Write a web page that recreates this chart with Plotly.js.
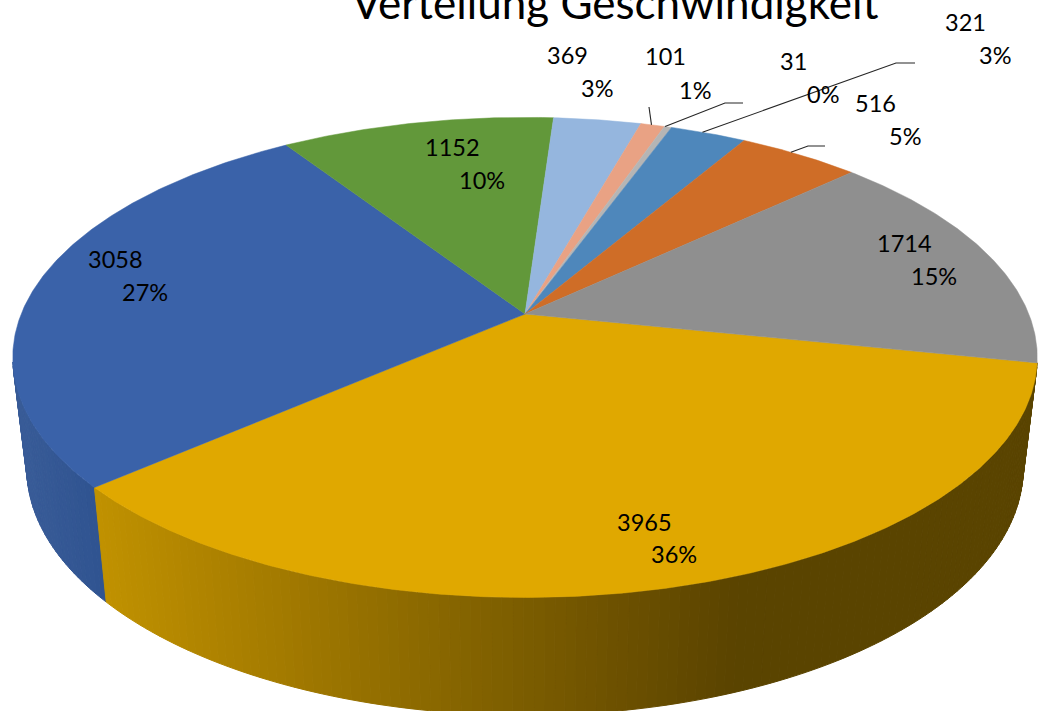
<!DOCTYPE html>
<html>
<head>
<meta charset="utf-8">
<script src="https://cdn.plot.ly/plotly-3.0.1.min.js"></script>
<style>html,body{margin:0;padding:0;background:#fff;overflow:hidden}</style>
</head>
<body>
<div id="chart" style="width:1038px;height:711px"></div>
<script>
// --- data (clockwise from the gold slice)
const titleText = "Verteilung Geschwindigkeit";
const values = [3965, 3058, 1152, 369, 101, 31, 321, 516, 1714];
const percents = ["36%", "27%", "10%", "3%", "1%", "0%", "3%", "5%", "15%"];
const colors = ["#e0a800", "#3a62a9", "#62983a", "#95b6de", "#e9a284", "#b5b5b5", "#4e87bb", "#cf6d27", "#8f8f8f"];

// --- label placement: centre of value line, centre of percent line
const valuePos = [[644,522],[115,259],[452,147],[567,55],[665,56],[793,61],[965,22],[875,103],[904,243]];
const percentPos = [[674,554],[145,292],[482,180],[597,88],[695,90],[823,94],[995,55],[905,136],[934,276]];
// leader lines: slice index, position along the slice rim, elbow x, elbow y, end x
const leaders = [[4,0.45,649,107,649],[5,0.1,725,103,743],[6,0.42,896,63,915],[7,0.42,808,146,825]];

// --- projected pie geometry (screen pixels as axis units)
const startAngle = -11.7, P = 0.1809, CX = 525;
const TOP = {A:503.8, B:232.2, C:314};
const BOT = {A:490.0, B:239, C:423.5};
const LABEL_FONT = 23.5;

const rad = d => d*Math.PI/180;
function proj(g, deg){
  const u = Math.cos(rad(deg)), v = Math.sin(rad(deg)), w = 1 + P*v;
  return [CX + g.A*u/w, g.C - g.B*v/w];
}
const total = values.reduce((a,b)=>a+b,0);
const spans = []; let cur = startAngle;
values.forEach(v => { const e = cur - v/total*360; spans.push([cur,e]); cur = e; });

function lerpStops(stops, x){
  if (x <= stops[0][0]) return stops[0][1];
  for (let i=1;i<stops.length;i++){
    if (x <= stops[i][0]){
      const t=(x-stops[i-1][0])/(stops[i][0]-stops[i-1][0]);
      const a=stops[i-1][1], b=stops[i][1];
      return a.map((c,k)=>c+(b[k]-c)*t);
    }
  }
  return stops[stops.length-1][1];
}
const goldWall = [[104,[192,145,0]],[300,[160,120,0]],[480,[130,98,0]],[640,[105,78,0]],[735,[90,68,0]]];
const blueWall = [[28,[56,91,151]],[104,[47,83,144]]];
const traces = [];
function wall(a0, a1, stops){
  const n = Math.ceil(Math.abs(a1-a0));
  for (let i=0;i<n;i++){
    const s = a0+(a1-a0)*i/n, e = a0+(a1-a0)*(i+1)/n;
    const p=[proj(TOP,s),proj(TOP,e),proj(BOT,e),proj(BOT,s)];
    const mid=(p[0][0]+p[1][0]+p[2][0]+p[3][0])/4;
    const c=lerpStops(stops,mid).map(Math.round);
    const col=`rgb(${c[0]},${c[1]},${c[2]})`;
    traces.push({type:'scatter',mode:'lines',x:[...p.map(q=>q[0]),p[0][0]],y:[...p.map(q=>q[1]),p[0][1]],
      fill:'toself',fillcolor:col,line:{color:col,width:1},hoverinfo:'skip',showlegend:false});
  }
}
wall(spans[1][0], -168.5, blueWall);
wall(spans[0][0], spans[0][1], goldWall);

spans.forEach((sp,i)=>{
  const n=Math.max(2,Math.ceil(Math.abs(sp[1]-sp[0])*2));
  const xs=[CX], ys=[TOP.C];
  for(let k=0;k<=n;k++){const q=proj(TOP,sp[0]+(sp[1]-sp[0])*k/n);xs.push(q[0]);ys.push(q[1]);}
  xs.push(CX);ys.push(TOP.C);
  traces.push({type:'scatter',mode:'lines',x:xs,y:ys,fill:'toself',fillcolor:colors[i],
    line:{color:colors[i],width:0.5},name:String(values[i]),hoverinfo:'skip',showlegend:false});
});

leaders.forEach(l=>{
  const sp=spans[l[0]], q=proj(TOP,sp[0]+(sp[1]-sp[0])*l[1]);
  traces.push({type:'scatter',mode:'lines',x:[q[0],l[2],l[4]],y:[q[1],l[3],l[3]],
    line:{color:'#262626',width:1.1},hoverinfo:'skip',showlegend:false});
});

const annotations=[];
values.forEach((v,i)=>{
  [[String(v),valuePos[i]],[percents[i],percentPos[i]]].forEach(([t,p])=>{
    annotations.push({text:t,x:p[0],y:p[1],xref:'x',yref:'y',showarrow:false,xanchor:'center',yanchor:'middle',
      font:{family:'Lato',size:LABEL_FONT,color:'#000'}});
  });
});

Plotly.newPlot('chart',traces,{
  width:1038,height:711,margin:{l:0,r:0,t:0,b:0},paper_bgcolor:'#fff',plot_bgcolor:'#fff',showlegend:false,
  title:{text:titleText,x:615/1038,xanchor:'center',y:1-4/711,yanchor:'middle',font:{family:'Lato',size:44,color:'#000'}},
  xaxis:{range:[0,1038],visible:false,fixedrange:true},
  yaxis:{range:[711,0],visible:false,fixedrange:true},
  annotations
},{displayModeBar:false,staticPlot:true});
</script>
</body>
</html>
